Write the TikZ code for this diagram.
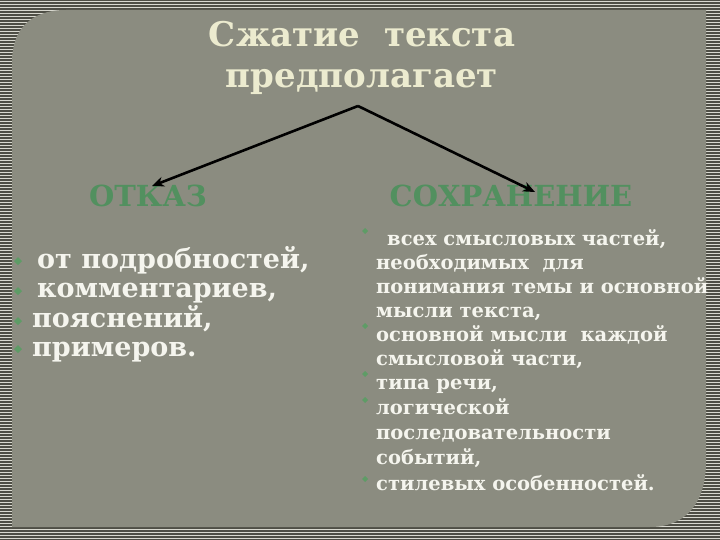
\documentclass[tikz,border=0pt]{standalone}
\usepackage{fontspec}
\usetikzlibrary{arrows.meta}
\setmainfont{DejaVu Serif}
\begin{document}
\begin{tikzpicture}[x=1pt,y=-1pt,
  titletxt/.style={font=\bfseries\fontsize{34}{41}\selectfont, text=titlecol, align=center},
  headtxt/.style={font=\bfseries\fontsize{29}{30}\selectfont, text=headcol, anchor=center},
  leftitem/.style={font=\bfseries\fontsize{27}{28}\selectfont, text=itemcol, anchor=base west, inner sep=0pt},
  rightitem/.style={font=\bfseries\fontsize{19.5}{24}\selectfont, text=itemcol, anchor=base west, inner sep=0pt},
  arr/.style={-{Stealth[length=12pt,width=10pt]}, line width=2.6pt, black}
]
\definecolor{outercol}{HTML}{4E4E45}
\definecolor{stripecol}{HTML}{D9D9D0}
\definecolor{panelcol}{HTML}{8B8C80}
\definecolor{titlecol}{HTML}{ECEBCF}
\definecolor{headcol}{HTML}{52905F}
\definecolor{itemcol}{HTML}{F5F5EE}
\definecolor{bulcol}{HTML}{5E9C66}
\useasboundingbox (0,0) rectangle (720,540);
\fill[outercol] (0,0) rectangle (720,540);
\foreach \i in {0,...,179} {
  \draw[stripecol, line width=0.9pt] (0,{\i*3+1}) -- (720,{\i*3+1});
}
\fill[panelcol] (12,527) -- (12,62) .. controls (12,30) and (30,10) .. (66,10)
  -- (706,10) -- (706,462) .. controls (706,500) and (688,527) .. (650,527) -- cycle;
% title
\node[titletxt] (title) at (362,58) {Сжатие\ \ текста\\предполагает};
\coordinate (apex) at (358,106);
\node[headtxt] (otkaz) at (148,196) {ОТКАЗ};
\node[headtxt] (sohr) at (511,196) {СОХРАНЕНИЕ};
\draw[arr] (apex) -- (152,186);
\draw[arr] (apex) -- (535,192);
% left list
\foreach \y in {266,296,326,354} {
  \fill[bulcol] (18,{\y-9}) -- (22,{\y-5}) -- (18,{\y-1}) -- (14,{\y-5}) -- cycle;
}
\node[leftitem] (l1) at (37,268) {от подробностей,};
\node[leftitem] (l2) at (37,297) {комментариев,};
\node[leftitem] (l3) at (32,327) {пояснений,};
\node[leftitem] (l4) at (32,356) {примеров.};
% right list
\foreach \y in {235,330,378,404,483} {
  \fill[bulcol] (365,{\y-7}) -- (368,{\y-4}) -- (365,{\y-1}) -- (362,{\y-4}) -- cycle;
}
\node[rightitem] (r1) at (387,245) {всех смысловых частей,};
\node[rightitem] (r2) at (376,269) {необходимых\ \ для};
\node[rightitem] (r3) at (376,293) {понимания темы и основной};
\node[rightitem] (r4) at (376,317) {мысли текста,};
\node[rightitem] (r5) at (376,341) {основной мысли\ \ каждой};
\node[rightitem] (r6) at (376,365) {смысловой части,};
\node[rightitem] (r7) at (376,389) {типа речи,};
\node[rightitem] (r8) at (376,414) {логической};
\node[rightitem] (r9) at (376,439) {последовательности};
\node[rightitem] (r10) at (376,464) {событий,};
\node[rightitem] (r11) at (376,490) {стилевых особенностей.};
\end{tikzpicture}
\end{document}
